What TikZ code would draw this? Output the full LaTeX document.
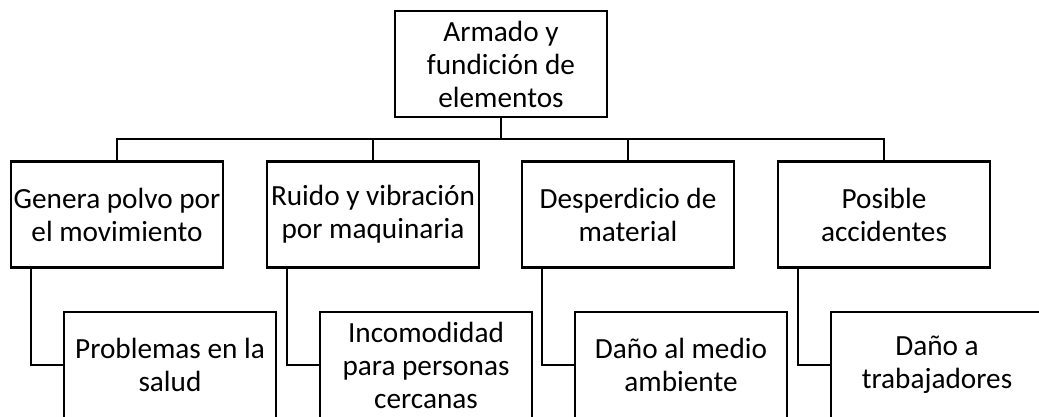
\documentclass[tikz,border=0pt]{standalone}
\usepackage{fontspec}
\setmainfont{Carlito}
\usetikzlibrary{positioning, calc}
\tikzset{
  box/.style  ={draw=black, line width=1.6pt, fill=white,
                minimum width=5.3cm, minimum height=2.65cm, align=center,
                font=\fontsize{20.8}{23.5}\selectfont, inner sep=1pt},
  link/.style ={draw=black, line width=1.6pt}
}
\begin{document}
\begin{tikzpicture}[x=0.025cm, y=-0.025cm]
  \useasboundingbox (0,0) rectangle (1039,416);

  \node[box] (top) at (501,64) {Armado y\\fundición de\\elementos};

  \node[box] (gen) at (117,214.5) {Genera polvo por\\el movimiento};
  \node[box] (rui) at (373,214.5) {Ruido y vibración\\por maquinaria};
  \node[box] (des) at (628,214.5) {Desperdicio de\\material};
  \node[box] (acc) at (884,214.5) {Posible\\accidentes};

  \node[box] (sal) at (170,365) {Problemas en la\\salud};
  \node[box] (inc) at (426,365) {Incomodidad\\para personas\\cercanas};
  \node[box] (amb) at (681,365) {Daño al medio\\ambiente};
  \node[box] (tra) at (937,365) {Daño a\\trabajadores};

  % ramas del nodo principal
  \coordinate (bar) at (501,139);
  \draw[link] (top.south) -- (bar);
  \draw[link] (gen.north) |- (bar) -| (acc.north);
  \draw[link] (rui.north) -- (rui.north |- bar);
  \draw[link] (des.north) -- (des.north |- bar);

  % consecuencias
  \draw[link] ($(gen.south west)+(21,0)$) |- (sal.west);
  \draw[link] ($(rui.south west)+(21,0)$) |- (inc.west);
  \draw[link] ($(des.south west)+(21,0)$) |- (amb.west);
  \draw[link] ($(acc.south west)+(21,0)$) |- (tra.west);
\end{tikzpicture}
\end{document}
